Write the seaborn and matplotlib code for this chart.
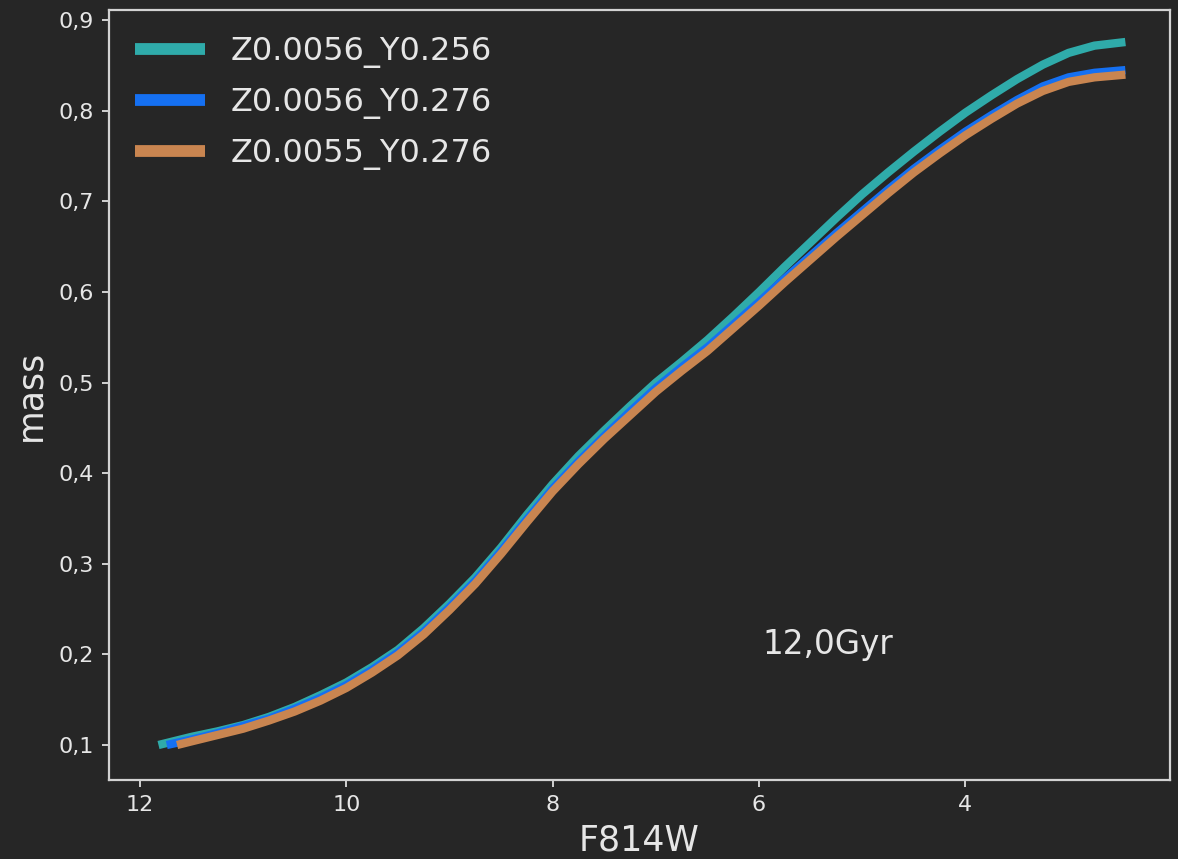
import matplotlib
matplotlib.use("Agg")
import matplotlib.pyplot as plt
from matplotlib.ticker import FuncFormatter
import pandas as pd
import seaborn as sns

# Isochrone mass vs. F814W magnitude, 12 Gyr
labels = ["Z0.0056_Y0.256", "Z0.0056_Y0.276", "Z0.0055_Y0.276"]

mag_a = [11.82, 11.5, 11.25, 11.0, 10.75, 10.5, 10.25, 10.0, 9.75, 9.5, 9.25, 9.0,
         8.75, 8.5, 8.25, 8.0, 7.75, 7.5, 7.25, 7.0, 6.75, 6.5, 6.25, 6.0,
         5.75, 5.5, 5.25, 5.0, 4.75, 4.5, 4.25, 4.0, 3.75, 3.5, 3.25, 3.0, 2.75, 2.45]
mass_a = [0.100, 0.109, 0.115, 0.122, 0.131, 0.142, 0.155, 0.169, 0.186, 0.205, 0.229, 0.256,
          0.285, 0.318, 0.354, 0.388, 0.419, 0.447, 0.474, 0.500, 0.523, 0.547, 0.573, 0.600,
          0.628, 0.655, 0.682, 0.708, 0.732, 0.755, 0.777, 0.798, 0.817, 0.835, 0.851, 0.864,
          0.872, 0.876]

mag_b = [11.74, 11.5, 11.25, 11.0, 10.75, 10.5, 10.25, 10.0, 9.75, 9.5, 9.25, 9.0,
         8.75, 8.5, 8.25, 8.0, 7.75, 7.5, 7.25, 7.0, 6.75, 6.5, 6.25, 6.0,
         5.75, 5.5, 5.25, 5.0, 4.75, 4.5, 4.25, 4.0, 3.75, 3.5, 3.25, 3.0, 2.75, 2.45]
mass_b = [0.100, 0.106, 0.113, 0.121, 0.129, 0.140, 0.152, 0.166, 0.183, 0.202, 0.225, 0.252,
          0.281, 0.314, 0.349, 0.383, 0.413, 0.441, 0.468, 0.494, 0.517, 0.539, 0.564, 0.589,
          0.615, 0.640, 0.665, 0.689, 0.713, 0.736, 0.757, 0.777, 0.795, 0.812, 0.827, 0.837,
          0.842, 0.845]

mag_c = [11.64, 11.5, 11.25, 11.0, 10.75, 10.5, 10.25, 10.0, 9.75, 9.5, 9.25, 9.0,
         8.75, 8.5, 8.25, 8.0, 7.75, 7.5, 7.25, 7.0, 6.75, 6.5, 6.25, 6.0,
         5.75, 5.5, 5.25, 5.0, 4.75, 4.5, 4.25, 4.0, 3.75, 3.5, 3.25, 3.0, 2.75, 2.45]
mass_c = [0.100, 0.104, 0.111, 0.118, 0.127, 0.137, 0.149, 0.163, 0.180, 0.199, 0.222, 0.249,
          0.278, 0.311, 0.346, 0.380, 0.410, 0.438, 0.464, 0.490, 0.513, 0.535, 0.560, 0.585,
          0.611, 0.636, 0.661, 0.685, 0.709, 0.732, 0.753, 0.773, 0.791, 0.808, 0.822, 0.832,
          0.837, 0.840]

x_ticks = [12, 10, 8, 6, 4]
y_ticks = [0.1, 0.2, 0.3, 0.4, 0.5, 0.6, 0.7, 0.8, 0.9]

age_text = "12,0Gyr"
age_pos = (5.97, 0.2)

colors = ["#2fabaa", "#1570f2", "#c98550"]

frames = []
for lab, mg, ms in zip(labels, [mag_a, mag_b, mag_c], [mass_a, mass_b, mass_c]):
    frames.append(pd.DataFrame({"F814W": mg, "mass": ms, "model": lab}))
df = pd.concat(frames, ignore_index=True)

bg = "#262626"
fg = "#e6e6e6"
sns.set_theme(style="dark", rc={
    "figure.facecolor": bg,
    "axes.facecolor": bg,
    "axes.edgecolor": "#d2d2d2",
    "axes.linewidth": 1.6,
    "text.color": fg,
    "axes.labelcolor": fg,
    "xtick.color": "#d2d2d2",
    "ytick.color": "#d2d2d2",
    "xtick.bottom": True,
    "ytick.left": True,
    "xtick.direction": "out",
    "ytick.direction": "out",
    "xtick.major.size": 5,
    "ytick.major.size": 5,
    "xtick.major.width": 1.4,
    "ytick.major.width": 1.4,
    "lines.solid_capstyle": "butt",
})
plt.rcParams["font.family"] = ["DejaVu Sans"]

fig = plt.figure(figsize=(11.78, 8.59), dpi=100)
ax = fig.add_axes([0.0925, 0.092, 0.9005, 0.896])

sns.lineplot(data=df, x="F814W", y="mass", hue="model", hue_order=labels,
             palette=colors, linewidth=6, ax=ax, legend=False, sort=True)
for ln in ax.get_lines():
    ln.set_solid_capstyle("butt")
    ln.set_solid_joinstyle("round")

ax.set_xlim(12.30, 2.02)
ax.set_ylim(0.0614, 0.911)
ax.set_xticks(x_ticks)
ax.set_yticks(y_ticks)
comma = FuncFormatter(lambda v, _: f"{v:g}".replace(".", ","))
ax.xaxis.set_major_formatter(comma)
ax.yaxis.set_major_formatter(comma)
ax.tick_params(labelsize=16, labelcolor=fg, pad=6)
ax.set_xlabel("F814W", fontsize=25, labelpad=6)
ax.set_ylabel("mass", fontsize=25, labelpad=8)
ax.grid(False)

ax.text(age_pos[0], age_pos[1], age_text, fontsize=23.5, color=fg)

handles = [plt.Line2D([], [], color=c, lw=8.5, solid_capstyle="butt") for c in colors]
ax.legend(handles, labels, loc="upper left", frameon=False, fontsize=23,
          labelcolor=fg, handlelength=2.2, borderaxespad=0.4, labelspacing=0.6)

fig.savefig("out.png", dpi=100, facecolor=bg)
